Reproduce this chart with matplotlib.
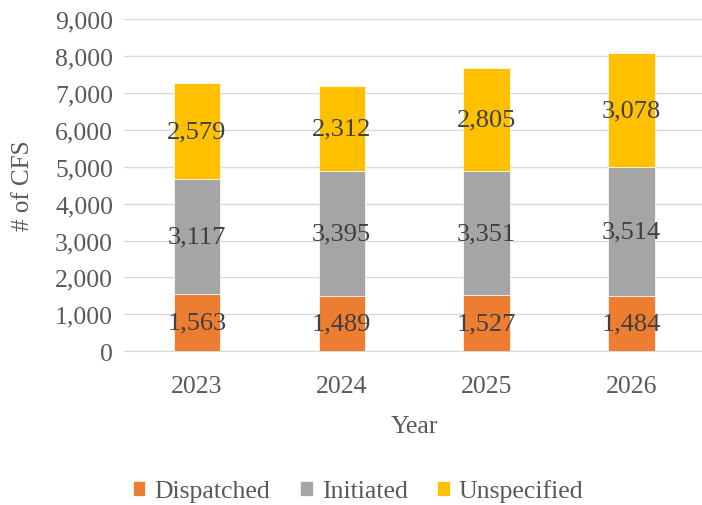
import matplotlib
matplotlib.use("Agg")
import matplotlib.pyplot as plt
from matplotlib.ticker import FuncFormatter, MultipleLocator
import numpy as np

years = ["2023", "2024", "2025", "2026"]
dispatched = [1563, 1489, 1527, 1484]
initiated = [3117, 3395, 3351, 3514]
unspecified = [2579, 2312, 2805, 3078]

plt.rcParams['font.family'] = ['Liberation Serif', 'DejaVu Serif']

fig = plt.figure(figsize=(7.02, 5.06), dpi=100)
ax = fig.add_axes([0.177, 0.304, 0.826, 0.656])

x = np.arange(len(years))
w = 0.32
colors = ['#ED7D31', '#A5A5A5', '#FFC000']
names = ['Dispatched', 'Initiated', 'Unspecified']
bottom = np.zeros(len(years))
for vals, c, n in zip([dispatched, initiated, unspecified], colors, names):
    ax.bar(x, vals, w, bottom=bottom, color=c, label=n, zorder=3,
           edgecolor='white', linewidth=0.5)
    for xi, b, v in zip(x, bottom, vals):
        ax.text(xi, b + v / 2, f"{v:,}", ha='center', va='center', fontsize=19,
                color='#404040', zorder=4)
    bottom = bottom + np.array(vals)

ax.set_xlim(-0.5, 3.5)
ax.set_ylim(0, 9000)
ax.yaxis.set_major_locator(MultipleLocator(1000))
ax.yaxis.set_major_formatter(FuncFormatter(lambda v, p: f"{int(v):,}"))
ax.set_xticks(x)
ax.set_xticklabels(years)
ax.grid(axis='y', color='#D9D9D9', linewidth=1, zorder=0)
for s in ['top', 'right', 'left']:
    ax.spines[s].set_visible(False)
ax.spines['bottom'].set_color('#D9D9D9')
ax.tick_params(axis='both', length=0, labelsize=18.5, colors='#595959')
ax.tick_params(axis='y', pad=8)
ax.tick_params(axis='x', pad=17)
ax.set_xlabel('Year', fontsize=18.5, color='#595959', labelpad=13)
ax.set_ylabel('# of CFS', fontsize=18, color='#595959', labelpad=15)

leg = fig.legend(loc='center', bbox_to_anchor=(0.51, 0.028), ncol=3, frameon=False,
                 fontsize=18.5, handlelength=0.5, handleheight=0.5, handletextpad=0.35,
                 columnspacing=1.15, borderpad=0)
for t in leg.get_texts():
    t.set_color('#595959')

fig.savefig('out.png', dpi=100)
